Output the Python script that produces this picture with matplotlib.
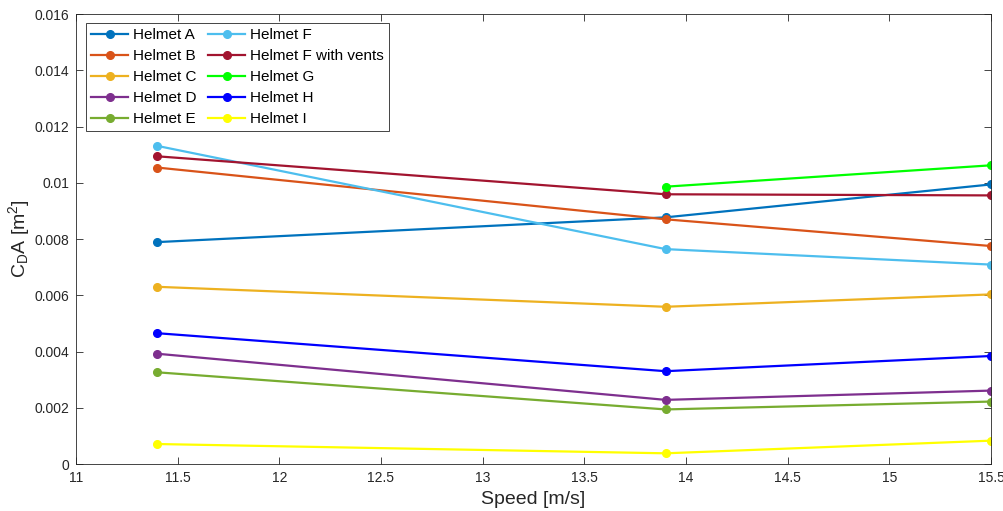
import numpy as np
import matplotlib
matplotlib.use('Agg')
import matplotlib.pyplot as plt
from matplotlib.ticker import FormatStrFormatter

plt.rcParams['font.family'] = ['Liberation Sans', 'DejaVu Sans']
plt.rcParams['mathtext.fontset'] = 'custom'
plt.rcParams['mathtext.rm'] = 'Liberation Sans'
plt.rcParams['mathtext.it'] = 'Liberation Sans'

# speeds in m/s
speed = [11.4, 13.9, 15.5]

helmet_a = [0.00789, 0.00877, 0.00994]
helmet_b = [0.01054, 0.00870, 0.00775]
helmet_c = [0.00630, 0.00559, 0.00603]
helmet_d = [0.00392, 0.00228, 0.00261]
helmet_e = [0.00326, 0.00194, 0.00222]
helmet_f = [0.01131, 0.00764, 0.00709]
helmet_f_vents = [0.01094, 0.00959, 0.00955]
helmet_g = [np.nan, 0.00986, 0.01062]
helmet_h = [0.00465, 0.00330, 0.00384]
helmet_i = [0.00071, 0.00038, 0.00083]

names = ['Helmet A', 'Helmet B', 'Helmet C', 'Helmet D', 'Helmet E',
         'Helmet F', 'Helmet F with vents', 'Helmet G', 'Helmet H', 'Helmet I']
series = [helmet_a, helmet_b, helmet_c, helmet_d, helmet_e,
          helmet_f, helmet_f_vents, helmet_g, helmet_h, helmet_i]
colors = ['#0072BD', '#D95319', '#EDB120', '#7E2F8E', '#77AC30',
          '#4DBEEE', '#A2142F', '#00FF00', '#0000FF', '#FFFF00']

fig = plt.figure(figsize=(10.04, 5.11), dpi=100)
ax = fig.add_axes([76 / 1004, 47 / 511, 915 / 1004, 450 / 511])

for name, vals, c in zip(names, series, colors):
    ax.plot(speed, vals, '-o', color=c, lw=1.6, ms=5.5, label=name)

ax.set_xlim(11, 15.5)
ax.set_ylim(0, 0.016)
ax.set_xticks(np.arange(11, 15.51, 0.5))
ax.set_yticks(np.arange(0, 0.0161, 0.002))
ax.xaxis.set_major_formatter(FormatStrFormatter('%g'))
ax.yaxis.set_major_formatter(FormatStrFormatter('%g'))
ax.tick_params(direction='in', top=True, right=True, labelsize=10,
               colors='#262626', length=5, width=0.6, pad=5)
for s in ax.spines.values():
    s.set_color('#262626')
    s.set_linewidth(0.6)

ax.set_xlabel('Speed [m/s]', fontsize=14, color='#262626', labelpad=4)
ax.set_ylabel(r'C$_\mathrm{D}$A [m$^2$]', fontsize=14, color='#262626')
ax.yaxis.set_label_coords(-0.048, 0.5)

leg = ax.legend(loc='upper left', ncol=2, fontsize=11, frameon=True, fancybox=False,
                edgecolor='#262626', framealpha=1, handlelength=2.4, handletextpad=0.3,
                columnspacing=0.8, labelspacing=0.45, borderpad=0.35, borderaxespad=0,
                bbox_to_anchor=(0.011, 0.98))
leg.get_frame().set_linewidth(0.6)

fig.savefig('out.png', dpi=100)
